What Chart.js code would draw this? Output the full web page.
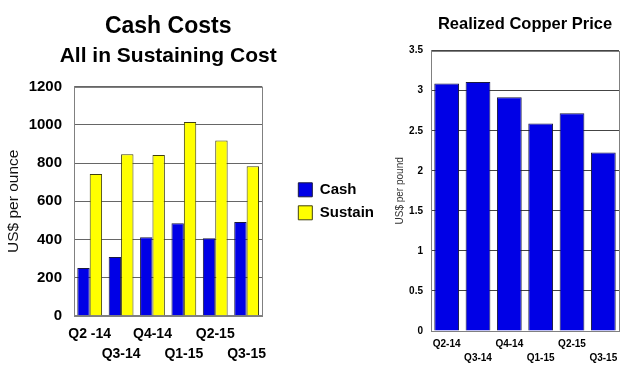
<!DOCTYPE html>
<html>
<head>
<meta charset="utf-8">
<script src="https://cdn.jsdelivr.net/npm/chart.js@4"></script>
<style>
html,body{margin:0;padding:0;background:#fff;}
#wrap{position:relative;width:640px;height:374px;overflow:hidden;}
#c1{position:absolute;left:0;top:0;}
#c2{position:absolute;left:380px;top:0;}
</style>
</head>
<body>
<div id="wrap">
<canvas id="c1" width="400" height="374" style="width:400px;height:374px"></canvas>
<canvas id="c2" width="260" height="374" style="width:260px;height:374px"></canvas>
</div>
<script>
// ---- data ----
const quarterLabelsLeft = ['Q2 -14','Q3-14','Q4-14','Q1-15','Q2-15','Q3-15'];
const quarterLabelsRight = ['Q2-14','Q3-14','Q4-14','Q1-15','Q2-15','Q3-15'];
const cashValues = [250, 308, 411, 485, 406, 492];
const sustainValues = [743, 847, 842, 1015, 919, 784];
const copperValues = [3.09, 3.11, 2.92, 2.59, 2.72, 2.23];
const leftTickLabels = ['0','200','400','600','800','1000','1200'];
const rightTickLabels = ['0','0.5','1','1.5','2','2.5','3','3.5'];

Chart.defaults.font.family = '"Liberation Sans", Arial, sans-serif';
Chart.defaults.color = '#000';
Chart.defaults.animation = false;

const frame = {
  id: 'frame',
  afterDraw(chart) {
    const a = chart.chartArea, ctx = chart.ctx;
    ctx.save();
    ctx.strokeStyle = '#808080';
    ctx.lineWidth = 1;
    ctx.strokeRect(Math.round(a.left) + 0.5, Math.round(a.top) + 0.5, Math.round(a.right - a.left), Math.round(a.bottom - a.top));
    ctx.restore();
  }
};

// let the (chart-area-centred) titles overhang the plot sideways instead of being squeezed
const widenTitles = {
  id: 'widenTitles',
  afterLayout(chart) {
    chart.boxes.forEach(b => {
      if (b.position === 'top' && b.options && b.options.text) {
        b.left -= 60; b.right += 60; b.width = b.right - b.left;
      }
    });
  }
};

// stagger labels into two rows
function stagger(labels) {
  return labels.map((l, i) => i % 2 === 0 ? [l, ''] : ['', l]);
}

new Chart(document.getElementById('c1'), {
  type: 'bar',
  data: {
    labels: stagger(quarterLabelsLeft),
    datasets: [
      { label: 'Cash', data: cashValues, backgroundColor: '#0000e6', borderColor: '#1a1a40', borderWidth: 1, categoryPercentage: 0.79, barPercentage: 1.0 },
      { label: 'Sustain', data: sustainValues, backgroundColor: '#ffff00', borderColor: '#404010', borderWidth: 1, categoryPercentage: 0.79, barPercentage: 1.0 }
    ]
  },
  options: {
    responsive: false,
    layout: { padding: { left: 4, right: 16, top: 0, bottom: 1 } },
    plugins: {
      title: { display: true, text: 'Cash Costs', fullSize: false, font: { size: 23, weight: 'bold' }, padding: { top: 13, bottom: 0 }, color: '#000' },
      subtitle: { display: true, text: 'All in Sustaining Cost', fullSize: false, font: { size: 21, weight: 'bold' }, padding: { top: 3, bottom: 18 }, color: '#000' },
      legend: {
        position: 'right',
        fullSize: false,
        maxWidth: 120,
        labels: { boxWidth: 14, boxHeight: 14, font: { size: 15, weight: 'bold' }, color: '#000', padding: 8 }
      },
      tooltip: { enabled: false }
    },
    scales: {
      x: {
        grid: { display: false, drawTicks: false },
        border: { display: true, color: '#808080' },
        ticks: { font: { size: 14, weight: 'bold', lineHeight: 1.4 }, padding: 9, maxRotation: 0, autoSkip: false, color: '#000' }
      },
      y: {
        min: 0, max: 1200,
        afterBuildTicks(axis) { axis.ticks = leftTickLabels.map(v => ({ value: parseFloat(v) })); },
        afterFit(axis) { axis.width = 70; },
        grid: { color: '#666', drawTicks: false },
        border: { display: true, color: '#808080' },
        ticks: { font: { size: 15, weight: 'bold' }, padding: 12, color: '#000', callback: (v, i) => leftTickLabels[i] },
        title: { display: true, text: 'US$ per ounce', font: { size: 15.5 }, color: '#111', padding: { top: 0, bottom: 2 } }
      },
      gap: {
        type: 'linear', position: 'right', display: true,
        grid: { display: false, drawTicks: false },
        border: { display: false },
        ticks: { display: false },
        afterFit(axis) { axis.width = 28; }
      }
    }
  },
  plugins: [frame, widenTitles]
});

new Chart(document.getElementById('c2'), {
  type: 'bar',
  data: {
    labels: stagger(quarterLabelsRight),
    datasets: [
      { label: 'Realized Copper Price', data: copperValues, backgroundColor: '#0000e6', borderColor: '#1a1a40', borderWidth: 1, categoryPercentage: 1.0, barPercentage: 0.79 }
    ]
  },
  options: {
    responsive: false,
    layout: { padding: { left: 12, right: 21, top: 0, bottom: 3 } },
    plugins: {
      title: { display: true, text: 'Realized Copper Price', fullSize: false, font: { size: 16.5, weight: 'bold' }, padding: { top: 14.2, bottom: 16.7 }, color: '#000' },
      legend: { display: false },
      tooltip: { enabled: false }
    },
    scales: {
      x: {
        grid: { display: false, drawTicks: false },
        border: { display: true, color: '#808080' },
        ticks: { font: { size: 10, weight: 'bold', lineHeight: 1.4 }, padding: 6, maxRotation: 0, autoSkip: false, color: '#000' }
      },
      y: {
        min: 0, max: 3.5,
        afterBuildTicks(axis) { axis.ticks = rightTickLabels.map(v => ({ value: parseFloat(v) })); },
        afterFit(axis) { axis.width = 39; },
        grid: { color: '#444', drawTicks: false },
        border: { display: true, color: '#808080' },
        ticks: { font: { size: 10, weight: 'bold' }, padding: 8, color: '#000', callback: (v, i) => rightTickLabels[i] },
        title: { display: true, text: 'US$ per pound', font: { size: 10 }, color: '#333', padding: { top: 2, bottom: 4 } }
      }
    }
  },
  plugins: [frame, widenTitles]
});
</script>
</body>
</html>
